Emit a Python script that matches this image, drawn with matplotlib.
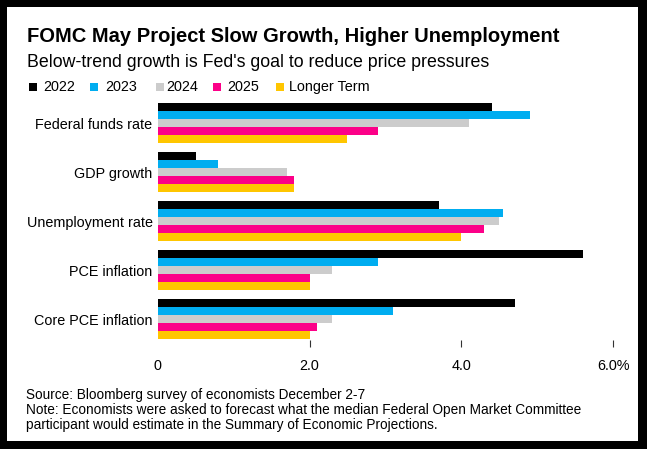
import numpy as np
import matplotlib
matplotlib.use("Agg")
import matplotlib.pyplot as plt
from matplotlib.patches import Rectangle

plt.rcParams.update({"font.family": "Liberation Sans", "font.size": 10.4})

W, H = 647, 449

categories = ["Federal funds rate", "GDP growth", "Unemployment rate",
              "PCE inflation", "Core PCE inflation"]
series = ["2022", "2023", "2024", "2025", "Longer Term"]
v2022 = [4.4, 0.5, 3.7, 5.6, 4.7]
v2023 = [4.9, 0.8, 4.55, 2.9, 3.1]
v2024 = [4.1, 1.7, 4.5, 2.3, 2.3]
v2025 = [2.9, 1.8, 4.3, 2.0, 2.1]
vlong = [2.5, 1.8, 4.0, 2.0, 2.0]
values = [v2022, v2023, v2024, v2025, vlong]
xticks = [0, 2, 4, 6]
xticklabels = ["0", "2.0", "4.0", "6.0%"]

colors = ["#000000", "#00adf0", "#cccccc", "#fc0088", "#ffc600"]


def fx(px): return px / W
def fy(py): return 1 - py / H


fig = plt.figure(figsize=(W / 100, H / 100), dpi=100, facecolor="black")
# white card inside the black frame
fig.patches.append(Rectangle((fx(7), fy(440.7)), fx(638) - fx(7), fy(7) - fy(440.7),
                             transform=fig.transFigure, facecolor="white",
                             edgecolor="none", zorder=-1))

ax = fig.add_axes([fx(157.6), fy(340), fx(613.3) - fx(157.6), fy(98) - fy(340)])
ax.set_facecolor("white")

y = np.arange(len(categories))
bh = 8 / 48.93
for i, (vals, c) in enumerate(zip(values, colors)):
    ax.barh(y + (i - 2) * bh, vals, height=bh, color=c, linewidth=0)

ax.set_xlim(0, 6)
ax.set_ylim(4.429, -0.517)
ax.set_yticks(y)
ax.set_yticklabels(categories, fontsize=10.4)
ax.tick_params(axis="y", length=0, pad=3.6)
ax.set_xticks(xticks)
ax.set_xticklabels(xticklabels, fontsize=10.4)
ax.tick_params(axis="x", length=5, width=0.8, color="#333333", pad=9)
ax.xaxis.get_major_ticks()[0].tick1line.set_visible(False)
for s in ax.spines.values():
    s.set_visible(False)

fig.text(fx(26.7), fy(42.3), "FOMC May Project Slow Growth, Higher Unemployment",
         fontsize=14.5, fontweight="bold", va="baseline")
fig.text(fx(26.7), fy(66.7), "Below-trend growth is Fed's goal to reduce price pressures",
         fontsize=12.8, va="baseline")

# legend row
sq_x = [28.7, 90, 156, 213.3, 276]
tx_x = [43.3, 105, 166.7, 227.7, 289.3]
for name, c, sx, tx in zip(series, colors, sq_x, tx_x):
    fig.patches.append(Rectangle((fx(sx), fy(91)), fx(8), 8 / H,
                                 transform=fig.transFigure, facecolor=c,
                                 edgecolor="none"))
    fig.text(fx(tx), fy(91), name, fontsize=10.4, va="baseline")

notes = ["Source: Bloomberg survey of economists December 2-7",
         "Note: Economists were asked to forecast what the median Federal Open Market Committee",
         "participant would estimate in the Summary of Economic Projections."]
for line, base in zip(notes, [399, 414.3, 429]):
    fig.text(fx(26), fy(base), line, fontsize=9.8, va="baseline")

fig.savefig("out.png", dpi=100, facecolor=fig.get_facecolor())
